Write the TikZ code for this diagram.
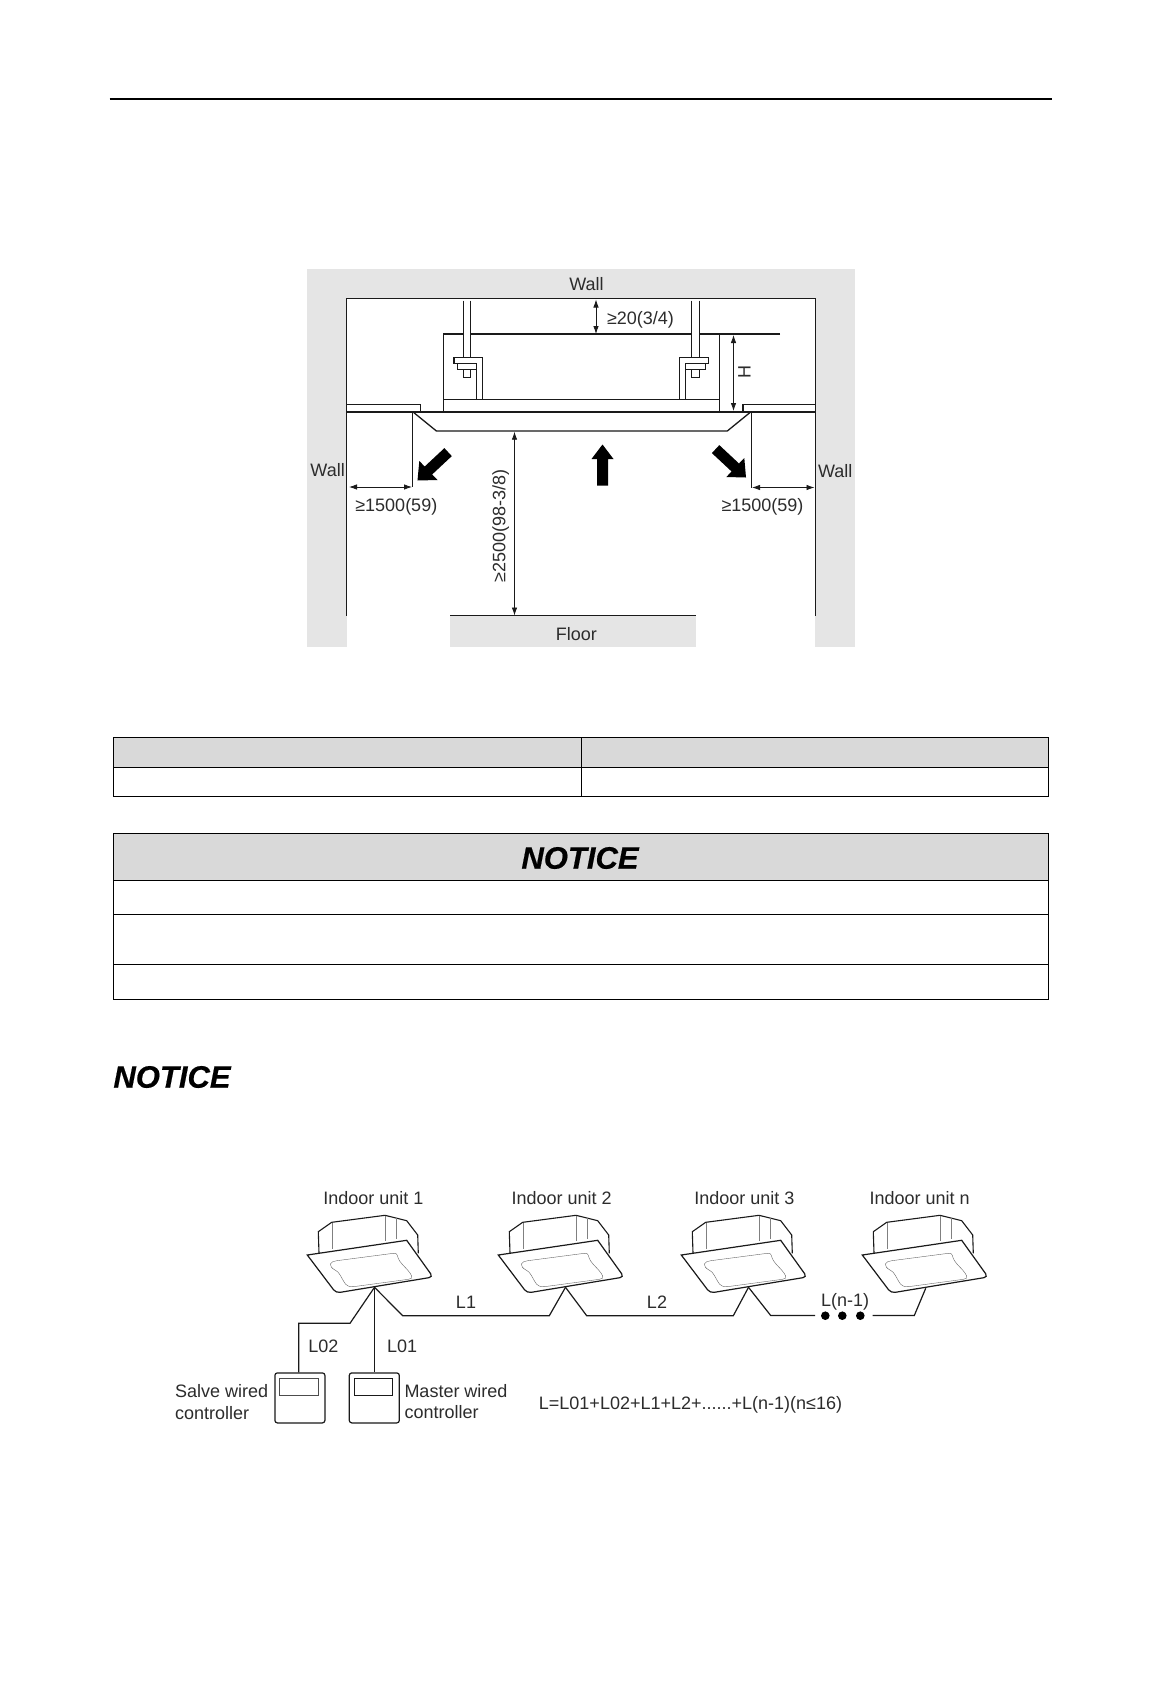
\documentclass[tikz,border=0pt]{standalone}
\usepackage{fontspec}
\setmainfont{Liberation Sans}
\newfontface\noticeface[FakeBold=0.5]{Liberation Sans Bold Italic}
\usetikzlibrary{arrows.meta}
\definecolor{wallgray}{HTML}{E5E5E5}
\definecolor{headgray}{HTML}{D9D9D9}
\definecolor{ink}{HTML}{1A1A1A}
\tikzset{
  x=1pt,y=-1pt,
  txt/.style={font=\fontsize{18}{22}\selectfont,text=ink!92!white,inner sep=0pt,anchor=base,yshift=-6.4pt},
  txtl/.style={txt,anchor=base west},
  txtr/.style={font=\fontsize{18}{22}\selectfont,text=ink!92!white,inner sep=0pt,anchor=center,rotate=90},
  notice/.style={font=\fontsize{31}{36}\noticeface\selectfont,text=black,inner sep=0pt,anchor=center},
  line/.style={draw=ink,line width=1.05pt,line join=miter},
  thick line/.style={draw=ink,line width=1.6pt},
  thin line/.style={draw=ink,line width=0.7pt},
  dim/.style={draw=ink,line width=0.8pt,{Latex[length=8pt,width=5.5pt]}-{Latex[length=8pt,width=5.5pt]}},
  bigarrow/.style={fill=black,draw=none},
  rule/.style={draw=black,line width=1.1pt},
  wire/.style={draw=ink,line width=1.2pt,line join=miter},
  ctrl/.style={draw=ink,line width=1.2pt,rounded corners=2.5pt,minimum width=50pt,minimum height=50pt,inner sep=0pt,fill=white},
  cassette/.pic={
    \coordinate (-tip) at (374.5,1287.3);
    \coordinate (-drop) at (370.7,1288.3);
    \draw[line,fill=white,line width=1.1pt] (319,1253) -- (318.3,1231.7) -- (331.7,1222.3) -- (385,1215.3)
      -- (406.7,1220.7) -- (417.7,1235) -- (418.3,1253.3);
    \draw[line width=0.7pt,draw=black!50] (332.3,1223.3) -- (332.3,1249)
      (385.3,1215.7) -- (385.3,1241) (396.7,1218.3) -- (396.7,1239.3);
    \draw[line,fill=white,line width=1.2pt] (307.3,1255) -- (406.7,1240.3) [rounded corners=4pt] -- (433,1277) -- (336,1293) [sharp corners] -- cycle;
    \draw[line width=0.4pt,draw=black!60] (330.3,1264) .. controls (331,1262) and (334,1261) .. (336.7,1260.7)
      -- (393.3,1253.3) .. controls (396,1253) and (397,1254) .. (397.3,1255.3)
      .. controls (399,1264) and (408,1268) .. (411.7,1276)
      .. controls (412.5,1278) and (411,1279) .. (408.3,1279.3)
      -- (353.3,1286.7) .. controls (350,1287) and (347,1286) .. (345.7,1284.3)
      .. controls (341,1278) and (340,1272) .. (335,1270)
      .. controls (332,1268.5) and (330,1266) .. cycle;
  }
}
\begin{document}
\begin{tikzpicture}
\useasboundingbox (0,0) rectangle (1162,1684);
\fill[white] (0,0) rectangle (1162,1684);
% page header rule
\draw[black,line width=1.8pt] (109.5,98.8) -- (1051.5,98.8);

% ---- installation section ----
\fill[wallgray] (306.5,269) rectangle (855,647);
\fill[white] (346.5,298.3) rectangle (815.3,647);
\fill[wallgray] (450.2,615.7) rectangle (695.6,647);
\draw[line,line width=1.2pt] (346.5,615.7) -- (346.5,298.3) -- (815.3,298.3) -- (815.3,615.7);
\draw[line,line width=1.4pt] (450.2,615.7) -- (695.6,615.7);

% unit body
\draw[line] (780,334) -- (443.6,334) -- (443.6,411.7);
\draw[line,line width=0.8pt] (719,334) -- (719,411.7);
\draw[line] (443.6,399.7) -- (719,399.7);

% ceiling panels and fascia
\draw[line] (346.5,404.7) -- (420.4,404.7) -- (420.4,411.7);
\draw[line] (743,411.7) -- (743,404.7) -- (815.3,404.7);
\draw[thick line] (346.5,411.7) -- (815.3,411.7);
\draw[line,line width=1.3pt] (412.7,411.7) -- (436.4,431) -- (727.3,431) -- (751,411.7);

% rods and brackets, left
\fill[white] (463.3,300) rectangle (470.7,358);
\draw[line] (463.3,300.5) -- (463.3,357.7) (470.7,300.5) -- (470.7,357.7);
\draw[line] (482.7,399.7) -- (482.7,357.7) -- (454,357.7) -- (454,363.3) -- (476.7,363.3) -- (476.7,399.7);
\draw[line] (457.3,363.3) -- (457.3,369.3) -- (476.7,369.3);
\draw[line] (463.3,369.3) -- (463.3,377.3) -- (470.7,377.3) -- (470.7,369.3);
% rods and brackets, right
\fill[white] (691.7,300) rectangle (699.1,358);
\draw[line] (691.7,300.5) -- (691.7,357.7) (699.1,300.5) -- (699.1,357.7);
\draw[line] (679.7,399.7) -- (679.7,357.7) -- (708.4,357.7) -- (708.4,363.3) -- (685.7,363.3) -- (685.7,399.7);
\draw[line] (705.1,363.3) -- (705.1,369.3) -- (685.7,369.3);
\draw[line] (699.1,369.3) -- (699.1,377.3) -- (691.7,377.3) -- (691.7,369.3);

% extension lines
\draw[thin line] (412.7,411.7) -- (412.7,487);
\draw[thin line] (751,411.7) -- (751,487.5);

% dimensions
\draw[dim] (349,487) -- (412,487);
\draw[dim] (752,487.5) -- (814.5,487.5);
\draw[dim] (596,299.5) -- (596,334);
\draw[dim] (733.5,335) -- (733.5,411);
\draw[dim] (514.5,431.7) -- (514.5,615.5);

% air flow arrows
\fill[bigarrow] (602.5,444.5) -- (613.5,459) -- (608,459) -- (608,485.7) -- (597,485.7) -- (597,459) -- (591.5,459) -- cycle;
\fill[bigarrow] (417.5,480.5) -- (437.5,480) -- (432.1,474.5) -- (451.8,456.1) -- (444.4,448.1) -- (424.7,466.5) -- (419.3,461) -- cycle;
\fill[bigarrow] (746,477.5) -- (744.3,458) -- (739,463.5) -- (719.3,445.1) -- (711.9,453.1) -- (731.6,471.5) -- (726.3,477) -- cycle;

% labels
\node[txt] (walltop) at (586.5,284.2) {Wall};
\node[txt] (wallleft) at (327.6,470.3) {Wall};
\node[txt] (wallright) at (835.3,471) {Wall};
\node[txt] (floor) at (576.4,634.2) {Floor};
\node[txt] (gap) at (640.5,317.6) {≥20(3/4)};
\node[txtr] (hlabel) at (744.4,371.7) {H};
\node[txt] (clearl) at (396.3,505.4) {≥1500(59)};
\node[txt] (clearr) at (762.5,505.4) {≥1500(59)};
\node[txtr] (clearv) at (500.7,526) {≥2500(98-3/8)};

% ---- first table ----
\fill[headgray] (113.3,737.3) rectangle (1048.5,767.3);
\draw[rule] (113.3,737.3) rectangle (1048.5,796.3);
\draw[rule] (113.3,767.3) -- (1048.5,767.3);
\draw[rule] (581.7,737.3) -- (581.7,796.3);

% ---- notice table ----
\fill[headgray] (113.3,833.3) rectangle (1048.5,880.3);
\draw[rule] (113.3,833.3) rectangle (1048.5,999.3);
\draw[rule] (113.3,880.3) -- (1048.5,880.3);
\draw[rule] (113.3,914.2) -- (1048.5,914.2);
\draw[rule] (113.3,964.3) -- (1048.5,964.3);
\node[notice] (noticetop) at (580,858) {NOTICE};
\node[notice] (noticeleft) at (172,1077) {NOTICE};

% ---- wiring section ----
\pic (u1) at (0,0) {cassette};
\pic (u2) at (191,0) {cassette};
\pic (u3) at (374,0) {cassette};
\pic (un) at (555,0) {cassette};

\node[txt] (lab1) at (373.3,1197.8) {Indoor unit 1};
\node[txt] (lab2) at (561.6,1197.8) {Indoor unit 2};
\node[txt] (lab3) at (744.3,1197.8) {Indoor unit 3};
\node[txt] (labn) at (919.6,1197.8) {Indoor unit n};

\node[ctrl,anchor=north west] (slave) at (274.3,1372.3) {};
\node[ctrl,anchor=north west] (master) at (348.7,1372.3) {};
\draw[line width=0.9pt,draw=black!70] (279.3,1378.3) rectangle (318,1395.7);
\draw[line width=0.9pt,draw=ink] (354.3,1378.3) rectangle (392.7,1395.7);

\coordinate (gapl) at (815,1315.5);
\coordinate (gapr) at (872.7,1315.5);
\draw[wire] (u1-tip) -- (350,1323.3) -- (298.7,1323.3) -- (298.7,1372.3);
\draw[wire] (u1-tip) -- (u1-tip |- master.north);
\draw[wire] (u1-tip) -- (402.7,1315.7) -- (549.3,1315.7) -- (u2-tip);
\draw[wire] (u2-tip) -- (586.7,1315.7) -- (733.3,1315.7) -- (u3-tip);
\draw[wire] (u3-tip) -- (770.7,1315.5) -- (gapl);
\draw[wire] (gapr) -- (914.3,1315.5) -- (un-drop);
\fill[black] (825.3,1315.7) circle (4.3) (842.3,1315.7) circle (4.3) (860.3,1315.7) circle (4.3);

\node[txt] (l02) at (323.3,1346.5) {L02};
\node[txt] (l01) at (402.2,1346.5) {L01};
\node[txt] (l1) at (466,1302.3) {L1};
\node[txt] (l2) at (657,1302.3) {L2};
\node[txt] (lnm) at (845,1300) {L(n-1)};
\node[txtl] (sal1) at (175,1391.3) {Salve wired};
\node[txtl] (sal2) at (175,1413.3) {controller};
\node[txtl] (mas1) at (404.3,1391) {Master wired};
\node[txtl] (mas2) at (404.3,1412.3) {controller};
\node[txt] (formula) at (690.5,1403.3) {L=L01+L02+L1+L2+......+L(n-1)(n≤16)};
\end{tikzpicture}
\end{document}
